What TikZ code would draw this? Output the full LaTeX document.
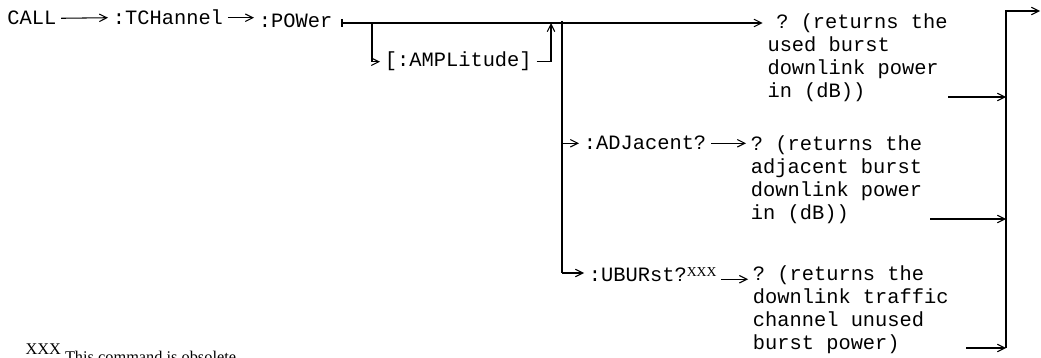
\documentclass[tikz,border=0pt]{standalone}
\usepackage{fontspec}
\setmainfont{Liberation Serif}
\setmonofont{Liberation Mono}
\usetikzlibrary{arrows.meta}

\begin{document}
\begin{tikzpicture}[x=0.02cm,y=-0.02cm,>={Straight Barb[length=1.5mm,width=1.5mm]},line width=0.6pt,
  cmd/.style={anchor=base west,inner xsep=2.5pt,inner ysep=0pt,font=\ttfamily\fontsize{11.6}{13.04}\selectfont},
  txt/.style={cmd,anchor=north west,align=left}]
\useasboundingbox (0,0) rectangle (1041,358);
% command chain
\node[cmd] (call) at (2.4,25) {CALL};
\node[cmd] (tchan) at (108,25) {:TCHannel};
\node[cmd] (power) at (254,28) {:POWer};
\draw[->] (call.east) -- (tchan.west);
\draw[->] (tchan.east) -- (tchan.east -| power.west);
% main path and optional amplitude
\coordinate (split) at (342,23);
\draw (split) ++(0,-4) -- ++(0,8);
\node[cmd] (ampl) at (380,67) {[:AMPLitude]};
\coordinate (ampin) at (372,23);
\coordinate (ampout) at (551,23);
\draw[->] (ampin) |- (ampl.west);
\draw[->] (ampl.east) -| (ampout);
\node[txt] (ret1) at (762.6,10.4) {\rule{0pt}{10pt}\hspace*{5pt}? (returns the\\used burst\\downlink power\\in (dB))};
\draw[->] (split) -- (split -| ret1.west);
% queries
\coordinate (fork) at (562,21);
\coordinate (forkend) at (562,273);
\draw[line width=1.2pt] (fork) -- (forkend);
\node[cmd] (adj) at (579,150) {:ADJacent?};
\node[txt] (ret2) at (746,132.4) {\rule{0pt}{10pt}? (returns the\\adjacent burst\\downlink power\\in (dB))};
\draw[->] (adj.west -| fork) -- (adj.west);
\draw[->] (adj.east) -- (adj.east -| ret2.west);
\node[cmd] (uburst) at (584,281) {:UBURst?\raisebox{2.3pt}{\rmfamily\fontsize{7.8}{8}\selectfont XXX}};
\node[txt] (ret3) at (748,262.4) {\rule{0pt}{10pt}? (returns the\\downlink traffic\\channel unused\\burst power)};
\draw[->] (forkend) -- (forkend -| uburst.west);
\draw[->] ([yshift=1pt]uburst.base east) -- ([yshift=1pt]uburst.base east -| ret3.west);
% return bus
\coordinate (bustop) at (1006,11);
\coordinate (busend) at (1040,11);
\coordinate (busbot) at (1006,348);
\draw[->] (busbot) -- (bustop) -- (busend);
\coordinate (out1) at (948,97);
\coordinate (out2) at (930,219);
\coordinate (out3) at (966,348);
\draw[->] (out1) -- (out1 -| bustop);
\draw[->] (out2) -- (out2 -| bustop);
\draw[->] (out3) -- (out3 -| bustop);
% footnote
\node[anchor=base west,inner sep=0pt,font=\fontsize{9.3}{11}\selectfont] (note) at (25,362) {\raisebox{4pt}{XXX} This command is obsolete};
\end{tikzpicture}
\end{document}
